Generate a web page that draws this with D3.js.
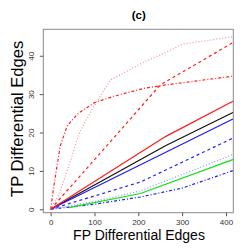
<!DOCTYPE html>
<html>
<head>
<meta charset="utf-8">
<script src="https://cdn.jsdelivr.net/npm/d3@7"></script>
<style>
  body { margin: 0; background: #fff; }
  text { font-family: "Liberation Sans", Arial, sans-serif; }
</style>
</head>
<body>
<div id="chart"></div>
<script>
// tick labels
const xTicks = [0, 100, 200, 300, 400];
const yTicks = [0, 10, 20, 30, 40];

// series: FP edges (x) and TP edges (y)
const redSolidX = [0, 263, 417];
const redSolidY = [0, 19, 28.2];
const blackSolidX = [0, 263, 417];
const blackSolidY = [0, 16.6, 25.3];
const blueSolidX = [0, 417];
const blueSolidY = [0, 23.6];
const blueDashX = [0, 205, 417];
const blueDashY = [0, 7.1, 18.6];
const blueDotX = [0, 100, 205, 417];
const blueDotY = [0, 2, 4.8, 14.3];
const greenSolidX = [42, 205, 417];
const greenSolidY = [0.4, 4.1, 13];
const blueDotDashX = [0, 100, 205, 300, 417];
const blueDotDashY = [0, 1.3, 3.2, 5.5, 10.1];
const redDashX = [0, 130, 250, 417];
const redDashY = [0, 16.8, 32.4, 43.5];
const redDotDashX = [0, 10, 22, 38, 63, 100, 143, 212, 263, 417];
const redDotDashY = [0, 8, 16.5, 21.8, 25, 27.8, 29.4, 31.5, 32.4, 34.7];
const redDotX = [0, 20, 45, 64, 80, 100, 136, 212, 265, 300, 417];
const redDotY = [0, 4, 12.5, 19.5, 23, 27, 33.7, 38.3, 41, 43, 45];

const series = [
  {x: blueDotDashX, y: blueDotDashY, color: "#2020ff", dash: "3,2,1,2"},
  {x: blueDotX, y: blueDotY, color: "#8c8cff", dash: "1,2"},
  {x: greenSolidX, y: greenSolidY, color: "#10e010", dash: null},
  {x: blueDashX, y: blueDashY, color: "#2020ff", dash: "3,3"},
  {x: blackSolidX, y: blackSolidY, color: "#111", dash: null},
  {x: blueSolidX, y: blueSolidY, color: "#1a1aff", dash: null},
  {x: redSolidX, y: redSolidY, color: "#ff1a1a", dash: null},
  {x: redDashX, y: redDashY, color: "#ff2020", dash: "3,3"},
  {x: redDotDashX, y: redDotDashY, color: "#ff2020", dash: "3,2,1,2"},
  {x: redDotX, y: redDotY, color: "#ff8c8c", dash: "1,2"}
];

const W = 249, H = 249;
const box = {left: 43.3, right: 233.3, top: 29.3, bottom: 212.7};

const svg = d3.select("#chart").append("svg").attr("width", W).attr("height", H);

const x = d3.scaleLinear().domain([-16.7, 416.7]).range([box.left, box.right]);
const y = d3.scaleLinear().domain([-0.9, 46.9]).range([box.bottom, box.top]);

svg.append("clipPath").attr("id", "clip")
  .append("rect")
  .attr("x", box.left).attr("y", box.top)
  .attr("width", box.right - box.left).attr("height", box.bottom - box.top);

const line = d3.line().x(d => x(d[0])).y(d => y(d[1]));

svg.append("g").attr("clip-path", "url(#clip)")
  .selectAll("path")
  .data(series)
  .join("path")
  .attr("d", s => line(s.x.map((v, i) => [v, s.y[i]])))
  .attr("fill", "none")
  .attr("stroke", s => s.color)
  .attr("stroke-width", 1.2)
  .attr("stroke-dasharray", s => s.dash);

// box
svg.append("rect")
  .attr("x", box.left).attr("y", box.top)
  .attr("width", box.right - box.left).attr("height", box.bottom - box.top)
  .attr("fill", "none").attr("stroke", "#8a8a8a").attr("stroke-width", 1);

// x axis
const gx = svg.append("g")
  .attr("transform", `translate(0,${box.bottom})`)
  .call(d3.axisBottom(x).tickValues(xTicks).tickSize(3.5).tickSizeOuter(0));
gx.select(".domain").remove();
gx.selectAll(".tick line").attr("stroke", "#555");
gx.selectAll(".tick text").attr("y", 6.3).attr("fill", "#333")
  .style("font-size", "8px").style("font-family", "Liberation Sans, Arial, sans-serif");

// y axis, labels rotated like R
const gy = svg.append("g")
  .attr("transform", `translate(${box.left},0)`)
  .call(d3.axisLeft(y).tickValues(yTicks).tickSize(3.5).tickSizeOuter(0));
gy.select(".domain").remove();
gy.selectAll(".tick line").attr("stroke", "#555");
gy.selectAll(".tick text")
  .attr("x", null).attr("dy", null)
  .attr("transform", "translate(-9,0) rotate(-90)")
  .attr("text-anchor", "middle")
  .attr("fill", "#333")
  .style("font-size", "8px").style("font-family", "Liberation Sans, Arial, sans-serif");

// titles
svg.append("text")
  .attr("x", 138.7).attr("y", 19)
  .attr("text-anchor", "middle")
  .style("font-size", "11.5px").style("font-weight", "bold")
  .text("(c)");

svg.append("text")
  .attr("x", 139).attr("y", 240.2)
  .attr("text-anchor", "middle")
  .style("font-size", "14px")
  .text("FP Differential Edges");

svg.append("text")
  .attr("transform", "translate(22.5,118.8) rotate(-90)")
  .attr("text-anchor", "middle")
  .style("font-size", "16.6px")
  .text("TP Differential Edges");
</script>
</body>
</html>
